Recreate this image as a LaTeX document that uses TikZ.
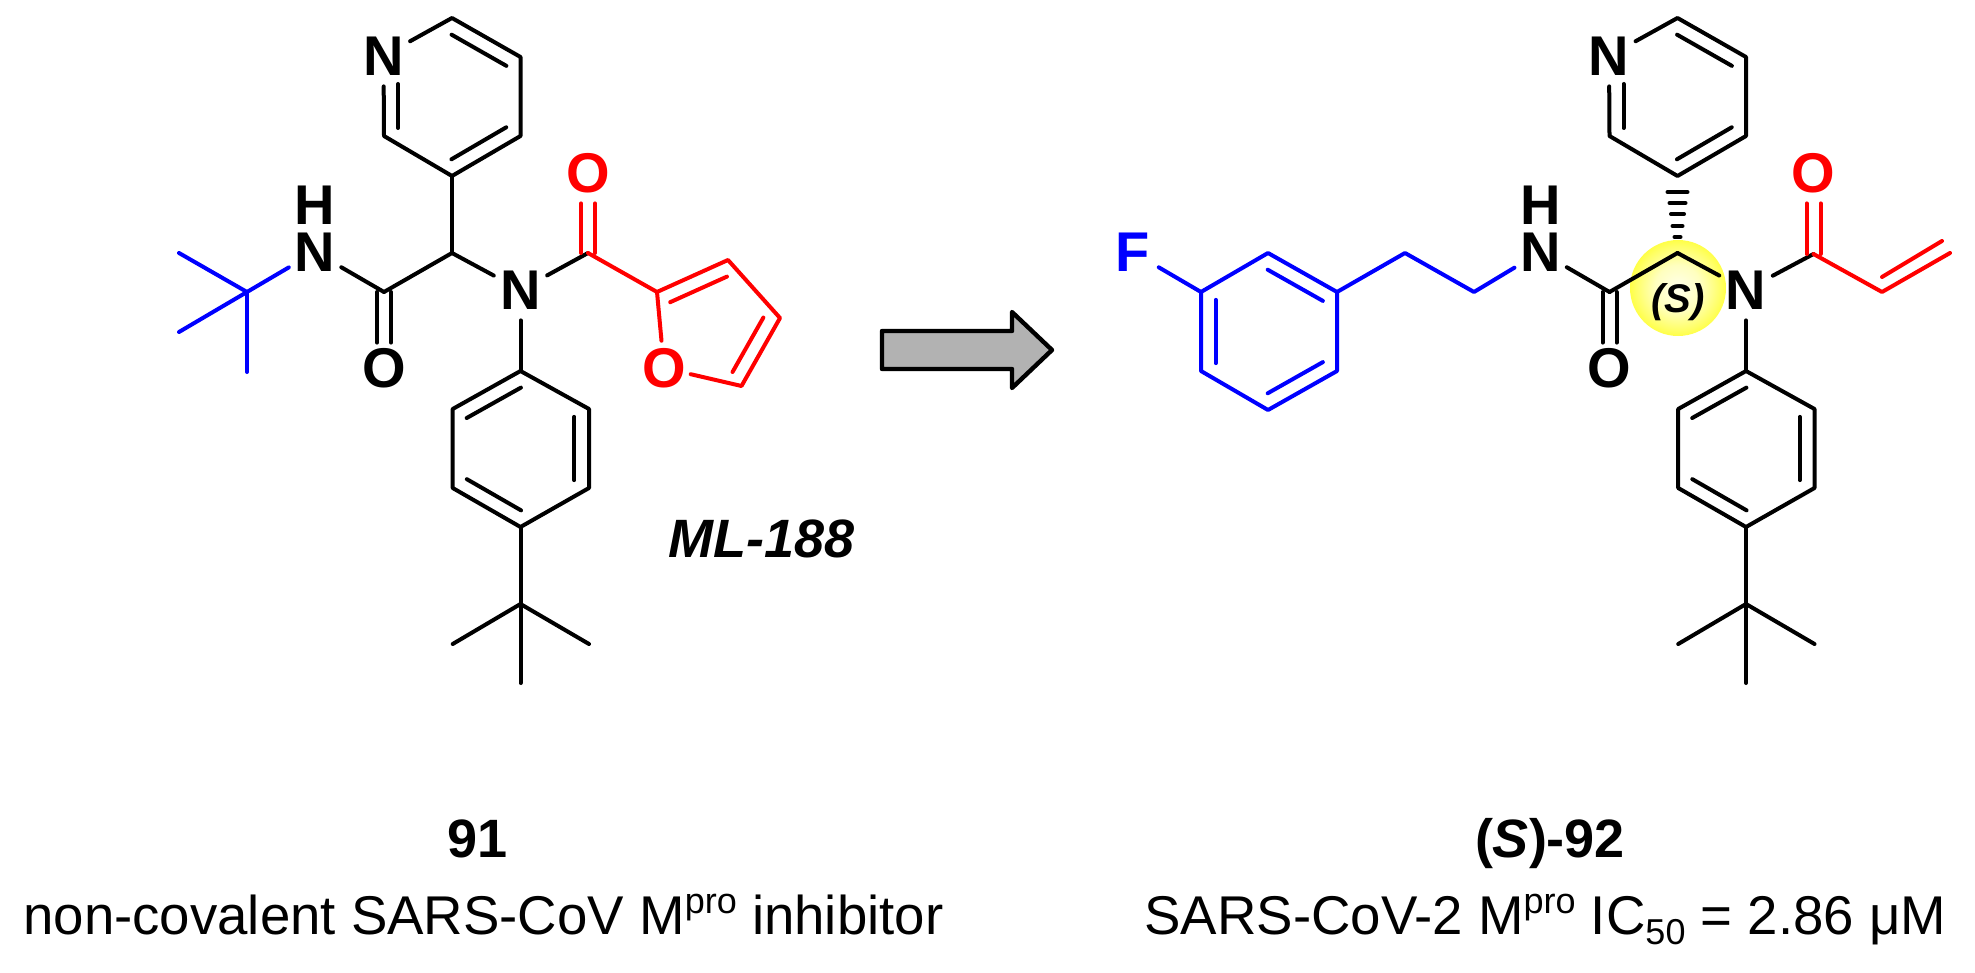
\documentclass[tikz,border=0pt]{standalone}
\usepackage{fontspec}
\setmainfont{Liberation Sans}
\usetikzlibrary{calc}
\pgfdeclareradialshading{hilite}{\pgfpointorigin}{color(0bp)=(yellow!8); color(12bp)=(yellow!25); color(22bp)=(yellow!60); color(30bp)=(yellow!92); color(36bp)=(yellow); color(50bp)=(yellow)}
\tikzset{
  bondline/.style={line width=2pt,line cap=round,line join=round},
  atomlabel/.style={circle,inner sep=-8pt,minimum size=30pt,font=\fontsize{28}{28}\selectfont\bfseries},
  oxlabel/.style={atomlabel,minimum size=27pt},
  caption/.style={anchor=base west,inner sep=0pt,font=\fontsize{27.3}{27.3}\selectfont},
  boldcaption/.style={anchor=base,inner sep=0pt,font=\fontsize{27}{27}\selectfont\bfseries},
  hashbar/.style={line width=2pt,line cap=round},
}
\newcommand\inb[2]{\draw ($(#1)!.1!(#2)!7.35pt!-90:(#2)$) -- ($(#2)!.1!(#1)!7.35pt!90:(#1)$);}
\newcommand\coremol{%
  \coordinate (p1) at (452,18);
  \coordinate (p2) at (520.5,57);
  \coordinate (p3) at (520.5,136);
  \coordinate (p4) at (452,176);
  \coordinate (p5) at (384,136);
  \node[atomlabel] (pN) at (383.5,56) {N};
  \coordinate (pNi) at (398,84);
  \coordinate (pNj) at (398,128);
  \coordinate (ch) at (452,253);
  \coordinate (cam) at (384,292);
  \node[oxlabel,minimum size=25pt] (oam) at (384,368) {O};
  \node[atomlabel] (nt) at (520.5,290) {N};
  \node[atomlabel] (nh) at (315,252) {N};
  \node[atomlabel] (hh) at (315,205) {H};
  \coordinate (a1) at (520.5,371);
  \coordinate (a2) at (589,409);
  \coordinate (a3) at (589,488);
  \coordinate (a4) at (520.5,527);
  \coordinate (a5) at (452.7,488);
  \coordinate (a6) at (452.7,409);
  \coordinate (tb) at (520.5,604);
  \coordinate (tb1) at (452.7,644);
  \coordinate (tb2) at (589,644);
  \coordinate (tb3) at (520.5,683);
  \begin{scope}[bondline]
    \draw (pN) -- (p1) -- (p2) -- (p3) -- (p4) -- (p5) -- (pN);
    \inb{p1}{p2} \inb{p3}{p4}
    \draw (pNi) -- (pNj);
    \draw (ch) -- (cam);
    \draw (nh) -- (cam);
    \draw (ch) -- (nt);
    \draw (nt) -- (a1);
    \draw ([xshift=-3.5pt]cam) -- ([xshift=-3.5pt]oam.north);
    \draw ([xshift=3.5pt]cam) -- ([xshift=3.5pt]oam.north);
    \draw (a1) -- (a2) -- (a3) -- (a4) -- (a5) -- (a6) -- cycle;
    \inb{a2}{a3} \inb{a4}{a5} \inb{a6}{a1}
    \draw (a4) -- (tb);
    \draw (tb) -- (tb1);
    \draw (tb) -- (tb2);
    \draw (tb) -- (tb3);
  \end{scope}
}
\begin{document}
\begin{tikzpicture}[x=.5pt,y=-.5pt]
\useasboundingbox (0,0) rectangle (1975,973);
% left molecule
\coremol
\coordinate (tc) at (247,292);
\coordinate (m1) at (179,253);
\coordinate (m2) at (179,332);
\coordinate (m3) at (247,372);
\coordinate (cko) at (588,253);
\node[atomlabel,text=red] (oko) at (588,173) {O};
\coordinate (f2) at (657,292);
\coordinate (f3) at (728,260);
\coordinate (f4) at (780,318);
\coordinate (f5) at (741.5,386);
\node[oxlabel,text=red] (fo) at (664,368) {O};
\begin{scope}[bondline]
  \draw (p4) -- (ch);
  \draw (nt) -- (cko);
  \begin{scope}[blue]
    \draw (tc) -- (m1);
    \draw (tc) -- (m2);
    \draw (tc) -- (m3);
    \draw (tc) -- (nh);
  \end{scope}
  \begin{scope}[red]
    \draw ([xshift=-3.5pt]cko) -- ([xshift=-3.5pt]oko.south);
    \draw ([xshift=3.5pt]cko) -- ([xshift=3.5pt]oko.south);
    \draw (cko) -- (f2) -- (f3) -- (f4) -- (f5) -- (fo) -- (f2);
    \inb{f2}{f3} \inb{f4}{f5}
  \end{scope}
\end{scope}
\node[anchor=base,inner sep=0pt,font=\fontsize{27}{27}\selectfont\bfseries\itshape] (ml) at (762,557) {ML-188};
% arrow
\coordinate (ar1) at (882,331);
\coordinate (ar2) at (1012,331);
\coordinate (ar3) at (1012,312);
\coordinate (ar4) at (1052,350);
\coordinate (ar5) at (1012,388);
\coordinate (ar6) at (1012,369);
\coordinate (ar7) at (882,369);
\draw[line width=2.2pt,line join=round,fill=black!30] (ar1) -- (ar2) -- (ar3) -- (ar4) -- (ar5) -- (ar6) -- (ar7) -- cycle;
% right molecule
\shade[shading=hilite] (1678,288) circle (48);
\begin{scope}[xshift=612.75pt,name prefix=r]
  \coremol
\end{scope}
\node[anchor=center,inner sep=0pt,font=\fontsize{20}{20}\selectfont\bfseries\itshape] (sl) at (1678,302) {(S)};
\node[atomlabel,text=blue] (ff) at (1132.5,252) {F};
\coordinate (b1) at (1337,292);
\coordinate (b2) at (1268,253);
\coordinate (b3) at (1201,292);
\coordinate (b4) at (1201,371);
\coordinate (b5) at (1268,410);
\coordinate (b6) at (1337,371);
\coordinate (ch1) at (1405,253);
\coordinate (ch2) at (1474,292);
\coordinate (ckr) at (1813.5,254);
\node[atomlabel,text=red] (okr) at (1813.5,173) {O};
\coordinate (v1) at (1882,292);
\coordinate (v2) at (1950,253);
\coordinate (vi1) at (1882,277);
\coordinate (vi2) at (1942,241);
\begin{scope}[bondline]
  \draw (rnt) -- (ckr);
  \begin{scope}[blue]
    \draw (ff) -- (b3);
    \draw (b1) -- (b2) -- (b3) -- (b4) -- (b5) -- (b6) -- cycle;
    \inb{b2}{b1} \inb{b4}{b3} \inb{b6}{b5}
    \draw (b1) -- (ch1) -- (ch2) -- (rnh);
  \end{scope}
  \begin{scope}[red]
    \draw ([xshift=-3.5pt]ckr) -- ([xshift=-3.5pt]okr.south);
    \draw ([xshift=3.5pt]ckr) -- ([xshift=3.5pt]okr.south);
    \draw (ckr) -- (v1) -- (v2);
    \draw (vi1) -- (vi2);
  \end{scope}
\end{scope}
% hashed bond from stereocentre to pyridine
\draw[hashbar] ($(rch)+(-10,-61)$) -- ($(rch)+(10,-61)$);
\draw[hashbar] ($(rch)+(-8,-50)$) -- ($(rch)+(8,-50)$);
\draw[hashbar] ($(rch)+(-6.5,-39)$) -- ($(rch)+(6.5,-39)$);
\draw[hashbar] ($(rch)+(-5,-27)$) -- ($(rch)+(5,-27)$);
\draw[hashbar] ($(rch)+(-3,-16)$) -- ($(rch)+(3,-16)$);
% captions
\node[boldcaption] (n91) at (478,857) {91};
\node[caption] (c91) at (23,934) {non-covalent SARS-CoV M\raisebox{.38em}{\fontsize{18}{18}\selectfont pro} inhibitor};
\node[boldcaption] (n92) at (1550,857) {(\textit{S})-92};
\node[caption] (c92) at (1144,934) {SARS-CoV-2 M\raisebox{.38em}{\fontsize{18}{18}\selectfont pro} IC\raisebox{-.2em}{\fontsize{18}{18}\selectfont 50} = 2.86 μM};
\end{tikzpicture}
\end{document}
